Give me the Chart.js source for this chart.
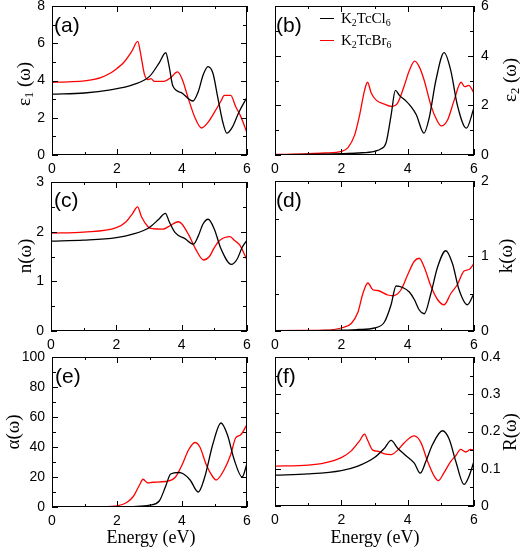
<!DOCTYPE html>
<html>
<head>
<meta charset="utf-8">
<script src="https://cdn.jsdelivr.net/npm/chart.js@4.4.1/dist/chart.umd.min.js"></script>
<style>
	body { margin: 0; background: #fff; }
	#wrap { position: relative; width: 524px; height: 548px; overflow: hidden; font-family: "Liberation Serif", "Times New Roman", serif; }
	canvas { position: absolute; left: 0; top: 0; }
	.lab { position: absolute; white-space: nowrap; color: #000; line-height: 1; }
	.ylab { font-size: 19px; transform: translate(-50%, -50%) rotate(-90deg); }
	.xlab { font-size: 18px; transform: translate(-50%, -50%); }
	.tag { font-family: "Liberation Sans", Arial, sans-serif; font-size: 21px; }
	.leg { font-size: 15px; }
	.swatch { position: absolute; height: 0; width: 14px; border-top: 1.4px solid; }
	sub { font-size: 66%; vertical-align: -0.3em; line-height: 0; }
</style>
</head>
<body>
<div id="wrap">
	<canvas id="pa" width="524" height="548"></canvas>
	<canvas id="pb" width="524" height="548"></canvas>
	<canvas id="pc" width="524" height="548"></canvas>
	<canvas id="pd" width="524" height="548"></canvas>
	<canvas id="pe" width="524" height="548"></canvas>
	<canvas id="pf" width="524" height="548"></canvas>

	<div class="lab tag" style="left:54px;top:14px">(a)</div>
	<div class="lab tag" style="left:276px;top:14px">(b)</div>
	<div class="lab tag" style="left:54px;top:189px">(c)</div>
	<div class="lab tag" style="left:276px;top:189px">(d)</div>
	<div class="lab tag" style="left:55px;top:365px">(e)</div>
	<div class="lab tag" style="left:276px;top:365px">(f)</div>

	<div class="lab ylab" style="left:23px;top:84px">ε<sub>1</sub> (ω)</div>
	<div class="lab ylab" style="left:509px;top:80px">ε<sub>2</sub> (ω)</div>
	<div class="lab ylab" style="left:24px;top:256px">n(ω)</div>
	<div class="lab ylab" style="left:505px;top:256px">k(ω)</div>
	<div class="lab ylab" style="left:12px;top:432px">α(ω)</div>
	<div class="lab ylab" style="left:509px;top:432px">R(ω)</div>

	<div class="lab xlab" style="left:151px;top:537px">Energy (eV)</div>
	<div class="lab xlab" style="left:375px;top:537px">Energy (eV)</div>

	<div class="swatch" style="left:320px;top:18px;border-color:#000"></div>
	<div class="lab leg" style="left:341px;top:11px">K<sub>2</sub>TcCl<sub>6</sub></div>
	<div class="swatch" style="left:320px;top:40px;border-color:#f00"></div>
	<div class="lab leg" style="left:341px;top:33px">K<sub>2</sub>TcBr<sub>6</sub></div>
</div>

<script>
// series names
const seriesNames = [`K2TcCl6`, `K2TcBr6`];

// (a) real part of dielectric function
const eps1ClE = [0, 1, 1.8, 2.5, 3.0, 3.3, 3.5, 3.6, 3.72, 3.98, 4.34, 4.5, 4.65, 4.8, 4.95, 5.1, 5.25, 5.38, 5.55, 5.75, 6];
const eps1Cl = [3.27, 3.33, 3.5, 3.78, 4.22, 4.95, 5.49, 4.8, 3.7, 3.35, 2.9, 3.4, 4.3, 4.75, 4.4, 3.1, 1.8, 1.17, 1.5, 2.3, 3.1];
const eps1BrE = [0, 0.5, 1, 1.5, 1.8, 2.0, 2.2, 2.45, 2.64, 2.72, 2.85, 2.95, 3.05, 3.15, 3.45, 3.65, 3.86, 4.0, 4.2, 4.4, 4.6, 4.8, 5.0, 5.2, 5.3, 5.5, 5.65, 5.8, 6];
const eps1Br = [3.9, 3.93, 3.98, 4.15, 4.4, 4.65, 4.95, 5.55, 6.1, 5.5, 4.3, 4.05, 4.1, 3.95, 3.95, 4.15, 4.46, 4.1, 3.0, 2.0, 1.45, 1.75, 2.3, 2.9, 3.2, 3.2, 2.6, 2.1, 1.2];

// (b) imaginary part
const eps2ClE = [0, 1, 2, 2.5, 3.0, 3.2, 3.35, 3.5, 3.63, 3.75, 3.96, 4.1, 4.26, 4.49, 4.65, 4.85, 5.1, 5.3, 5.5, 5.77, 6];
const eps2Cl = [0.01, 0.02, 0.05, 0.08, 0.15, 0.25, 0.5, 1.6, 2.6, 2.4, 2.16, 1.95, 1.62, 0.88, 1.5, 3.0, 4.12, 3.4, 2.0, 1.08, 1.9];
const eps2BrE = [0, 1, 1.5, 2.0, 2.2, 2.4, 2.55, 2.7, 2.79, 2.9, 3.06, 3.3, 3.51, 3.7, 3.9, 4.05, 4.21, 4.35, 4.5, 4.7, 4.9, 5.01, 5.2, 5.4, 5.61, 5.72, 5.84, 6];
const eps2Br = [0.02, 0.05, 0.08, 0.15, 0.3, 0.8, 1.6, 2.6, 2.93, 2.5, 2.2, 2.05, 1.96, 2.1, 2.8, 3.4, 3.78, 3.55, 3.0, 2.0, 1.35, 1.17, 1.4, 2.2, 2.93, 2.75, 2.8, 2.5];

// (c) refractive index
const nClE = [0, 1, 2, 2.5, 3.0, 3.3, 3.5, 3.62, 3.8, 4.1, 4.36, 4.5, 4.65, 4.81, 5.0, 5.2, 5.52, 5.7, 5.85, 6];
const nCl = [1.81, 1.83, 1.88, 1.95, 2.08, 2.25, 2.37, 2.2, 1.98, 1.86, 1.75, 1.9, 2.15, 2.25, 2.05, 1.66, 1.34, 1.45, 1.68, 1.83];
const nBrE = [0, 1, 2, 2.3, 2.5, 2.65, 2.77, 2.97, 3.1, 3.42, 3.6, 3.89, 4.0, 4.22, 4.42, 4.67, 4.85, 5.0, 5.18, 5.48, 5.62, 5.78, 6];
const nBr = [1.97, 1.99, 2.08, 2.2, 2.37, 2.5, 2.3, 2.1, 2.06, 2.05, 2.1, 2.2, 2.16, 1.93, 1.66, 1.43, 1.5, 1.68, 1.83, 1.9, 1.82, 1.73, 1.43];

// (d) extinction coefficient
const kClE = [0, 1, 2, 2.5, 3.0, 3.3, 3.5, 3.65, 3.85, 4.05, 4.2, 4.35, 4.5, 4.7, 4.9, 5.15, 5.35, 5.55, 5.8, 6];
const kCl = [0, 0.003, 0.01, 0.02, 0.04, 0.12, 0.35, 0.6, 0.58, 0.52, 0.42, 0.28, 0.23, 0.5, 0.85, 1.07, 0.9, 0.55, 0.35, 0.5];
const kBrE = [0, 1, 1.5, 2.0, 2.3, 2.5, 2.65, 2.8, 2.95, 3.1, 3.4, 3.55, 3.8, 4.0, 4.2, 4.35, 4.5, 4.7, 4.9, 5.1, 5.3, 5.5, 5.7, 5.85, 6];
const kBr = [0.005, 0.007, 0.01, 0.04, 0.1, 0.25, 0.5, 0.64, 0.55, 0.54, 0.48, 0.47, 0.55, 0.75, 0.93, 0.97, 0.85, 0.6, 0.42, 0.35, 0.5, 0.62, 0.8, 0.82, 0.9];

// (e) absorption
const alphaClE = [0, 2, 2.5, 3.0, 3.3, 3.5, 3.65, 3.9, 4.05, 4.25, 4.5, 4.7, 4.95, 5.2, 5.4, 5.6, 5.85, 6];
const alphaCl = [0, 0.1, 0.3, 1.2, 4, 14, 22, 23, 22, 18, 10, 20, 42, 56, 48, 32, 20, 29];
const alphaBrE = [0, 1.5, 2.0, 2.3, 2.5, 2.7, 2.8, 2.95, 3.1, 3.5, 3.8, 4.0, 4.2, 4.4, 4.55, 4.75, 4.95, 5.05, 5.3, 5.5, 5.65, 5.8, 6];
const alphaBr = [0, 0.2, 0.8, 3, 7, 15, 18.5, 16, 16.5, 17, 20, 28, 38, 43, 40, 28, 20, 18, 25, 35, 46, 48, 55];

// (f) reflectivity
const reflClE = [0, 1, 2, 2.5, 3.0, 3.3, 3.5, 3.7, 3.95, 4.2, 4.38, 4.55, 4.75, 5.05, 5.25, 5.45, 5.7, 5.85, 6];
const reflCl = [0.083, 0.086, 0.095, 0.107, 0.13, 0.155, 0.176, 0.155, 0.135, 0.115, 0.088, 0.12, 0.165, 0.202, 0.18, 0.12, 0.058, 0.08, 0.12];
const reflBrE = [0, 1, 1.5, 2.0, 2.3, 2.55, 2.7, 2.8, 2.95, 3.1, 3.3, 3.5, 3.7, 3.9, 4.2, 4.4, 4.6, 4.8, 4.92, 5.1, 5.3, 5.45, 5.6, 5.75, 5.9, 6];
const reflBr = [0.107, 0.11, 0.116, 0.13, 0.148, 0.175, 0.193, 0.175, 0.15, 0.147, 0.14, 0.138, 0.15, 0.17, 0.188, 0.17, 0.12, 0.08, 0.068, 0.09, 0.12, 0.135, 0.152, 0.145, 0.152, 0.15];

const W = 524, H = 548;
const Y_AXIS_W = 40, X_AXIS_H = 22;
const tickFont = {family: `"Liberation Sans", Arial, sans-serif`, size: 14};

// frame with inward major + minor ticks on all four sides
const framePlugin = {
	id: `frame`,
	afterDatasetsDraw(chart, args, opts) {
		const {ctx, chartArea: a, scales: {x, y}} = chart;
		const px = v => Math.round(v) + 0.5;
		ctx.save();
		ctx.strokeStyle = `#000`;
		ctx.lineWidth = 1;
		ctx.strokeRect(a.left + 0.5, a.top + 0.5, a.right - a.left - 1, a.bottom - a.top - 1);
		ctx.beginPath();
		const xMarks = [];
		x.ticks.forEach(t => {
			xMarks.push([t.value, 6]);
			if (t.value + opts.xMinor < x.max) xMarks.push([t.value + opts.xMinor, 3]);
		});
		xMarks.forEach(([v, len]) => {
			const p = px(x.getPixelForValue(v));
			ctx.moveTo(p, a.bottom); ctx.lineTo(p, a.bottom - len);
			ctx.moveTo(p, a.top); ctx.lineTo(p, a.top + len);
		});
		const yMarks = [];
		y.ticks.forEach(t => {
			yMarks.push([t.value, 6]);
			if (t.value + opts.yMinor < y.max - 1e-9) yMarks.push([t.value + opts.yMinor, 4]);
		});
		yMarks.forEach(([v, len]) => {
			const p = px(y.getPixelForValue(v));
			ctx.moveTo(a.left, p); ctx.lineTo(a.left + len, p);
			ctx.moveTo(a.right, p); ctx.lineTo(a.right - len, p);
		});
		ctx.stroke();
		ctx.restore();
	}
};

function fixedFit(size, key) {
	return scale => {
		scale[key] = size;
		scale.paddingTop = 0; scale.paddingBottom = 0;
		scale.paddingLeft = 0; scale.paddingRight = 0;
	};
}

function toPoints(es, vs) {
	return es.map((e, i) => ({x: e, y: vs[i]}));
}

function makePanel(id, area, side, yMax, yStep, yMinor, cl, br, decimals) {
	const padding = {top: area.top, bottom: H - area.bottom - X_AXIS_H};
	if (side === `left`) {
		padding.left = area.left - Y_AXIS_W;
		padding.right = W - area.right;
	} else {
		padding.left = area.left;
		padding.right = W - area.right - Y_AXIS_W;
	}
	const line = (label, pts, color) => ({
		label,
		data: pts,
		borderColor: color,
		borderWidth: 1.3,
		pointRadius: 0,
		fill: false,
		cubicInterpolationMode: `monotone`
	});
	return new Chart(document.getElementById(id), {
		type: `line`,
		data: {
			datasets: [
				line(seriesNames[0], cl, `#000000`),
				line(seriesNames[1], br, `#ff0000`)
			]
		},
		plugins: [framePlugin],
		options: {
			responsive: false,
			animation: false,
			devicePixelRatio: 1,
			layout: {padding},
			plugins: {
				legend: {display: false},
				tooltip: {enabled: false},
				frame: {xMinor: 1, yMinor}
			},
			scales: {
				x: {
					type: `linear`,
					min: 0,
					max: 6,
					ticks: {stepSize: 2, color: `#000`, font: tickFont, padding: 6, maxRotation: 0},
					grid: {display: false, drawTicks: false},
					border: {display: false},
					afterFit: fixedFit(X_AXIS_H, `height`)
				},
				y: {
					type: `linear`,
					position: side,
					min: 0,
					max: yMax,
					ticks: {
						stepSize: yStep,
						color: `#000`,
						font: tickFont,
						padding: 7,
						callback: v => decimals ? (v === 0 ? `0` : v.toFixed(decimals)) : v
					},
					grid: {display: false, drawTicks: false},
					border: {display: false},
					afterFit: fixedFit(Y_AXIS_W, `width`)
				}
			}
		}
	});
}

makePanel(`pa`, {left: 52, right: 247, top: 6, bottom: 155}, `left`, 8, 2, 1,
	toPoints(eps1ClE, eps1Cl), toPoints(eps1BrE, eps1Br), 0);
makePanel(`pb`, {left: 275, right: 474, top: 6, bottom: 155}, `right`, 6, 2, 1,
	toPoints(eps2ClE, eps2Cl), toPoints(eps2BrE, eps2Br), 0);
makePanel(`pc`, {left: 51, right: 247, top: 182, bottom: 331}, `left`, 3, 1, 0.5,
	toPoints(nClE, nCl), toPoints(nBrE, nBr), 0);
makePanel(`pd`, {left: 275, right: 474, top: 181, bottom: 331}, `right`, 2, 1, 0.5,
	toPoints(kClE, kCl), toPoints(kBrE, kBr), 0);
makePanel(`pe`, {left: 52, right: 247, top: 357, bottom: 507}, `left`, 100, 20, 10,
	toPoints(alphaClE, alphaCl), toPoints(alphaBrE, alphaBr), 0);
makePanel(`pf`, {left: 275, right: 474, top: 357, bottom: 506}, `right`, 0.4, 0.1, 0.05,
	toPoints(reflClE, reflCl), toPoints(reflBrE, reflBr), 1);
</script>
</body>
</html>
